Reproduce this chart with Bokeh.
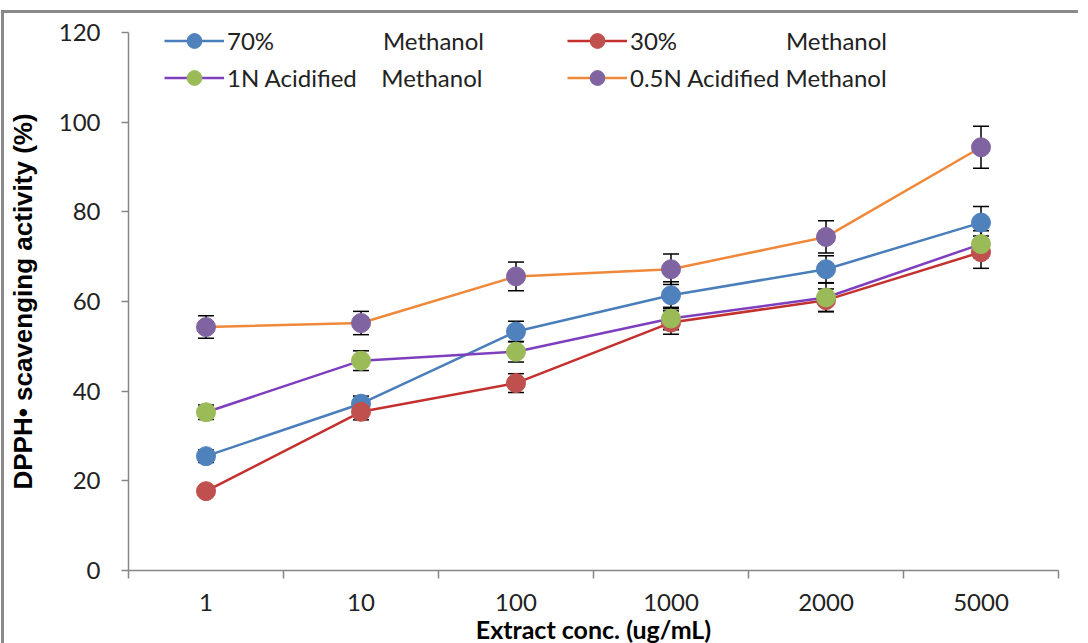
from bokeh.plotting import figure
from bokeh.models import (Range1d, FixedTicker, Whisker, TeeHead, ColumnDataSource,
                          Legend, LegendItem)
from bokeh.embed import file_html
from bokeh.resources import INLINE

EM = "\u2003"
NB = "\u00a0"
categories = ["1", "10", "100", "1000", "2000", "5000"]
series_names = ["70%" + EM * 4 + NB * 6 + "Methanol",
                "30%" + EM * 4 + NB * 6 + "Methanol",
                "1N Acidified" + NB * 4 + "Methanol",
                "0.5N Acidified Methanol"]
m70 = [25.5, 37.2, 53.3, 61.4, 67.2, 77.6]
e70 = [1.4, 1.7, 2.3, 3.0, 3.0, 3.6]
m30 = [17.7, 35.4, 41.8, 55.3, 60.3, 71.0]
e30 = [0.8, 1.8, 2.1, 2.6, 2.5, 3.6]
n1 = [35.3, 46.8, 48.8, 56.2, 60.9, 72.8]
en1 = [1.6, 2.2, 2.3, 2.5, 3.2, 3.0]
n05 = [54.3, 55.2, 65.6, 67.2, 74.4, 94.4]
en05 = [2.5, 2.6, 3.2, 3.4, 3.6, 4.7]
y_ticks = [0, 20, 40, 60, 80, 100, 120]

values = [m70, m30, n1, n05]
errors = [e70, e30, en1, en05]
line_colors = ["#4A7EBB", "#C3302E", "#7E3FBF", "#F0883A"]
marker_colors = ["#4F81BD", "#C0504D", "#9BBB59", "#8064A2"]

AXIS = "#868686"
FONT = "Lato"

xs = [i + 0.5 for i in range(len(categories))]

p = figure(frame_width=930, frame_height=538,
           x_range=Range1d(0, len(categories)), y_range=Range1d(0, 120),
           output_backend="svg", toolbar_location=None,
           min_border_left=117, min_border_right=20, min_border_top=19, min_border_bottom=62)
p.styles = {"border-top": "3px solid #8a8a8a", "border-left": "3px solid #8a8a8a",
            "margin-top": "10px", "margin-left": "1px"}
p.outline_line_color = None
p.xgrid.visible = False
p.ygrid.visible = False

# x axis: labels at category centres, ticks at boundaries
p.xaxis.ticker = FixedTicker(ticks=xs, minor_ticks=list(range(len(categories) + 1)))
p.xaxis.major_label_overrides = {x: c for x, c in zip(xs, categories)}
p.xaxis.major_tick_out = 0
p.xaxis.major_tick_in = 0
p.xaxis.minor_tick_out = 8
p.xaxis.minor_tick_in = 0
p.xaxis.minor_tick_line_color = AXIS
p.xaxis.minor_tick_line_width = 1.5
p.xaxis.axis_line_color = AXIS
p.xaxis.axis_line_width = 1.5
p.xaxis.major_label_text_font = FONT
p.xaxis.major_label_text_font_size = "24px"
p.xaxis.major_label_text_color = "#222222"
p.xaxis.major_label_standoff = 15
p.xaxis.axis_label = "Extract conc. (ug/mL)"
p.xaxis.axis_label_text_font = FONT
p.xaxis.axis_label_text_font_style = "bold"
p.xaxis.axis_label_text_font_size = "25px"
p.xaxis.axis_label_standoff = 0
p.xaxis.axis_label_text_color = "black"

p.yaxis.ticker = FixedTicker(ticks=y_ticks)
p.yaxis.minor_tick_line_color = None
p.yaxis.major_tick_out = 7
p.yaxis.major_tick_in = 0
p.yaxis.major_tick_line_color = AXIS
p.yaxis.major_tick_line_width = 1.5
p.yaxis.axis_line_color = AXIS
p.yaxis.axis_line_width = 1.5
p.yaxis.major_label_text_font = FONT
p.yaxis.major_label_text_font_size = "24px"
p.yaxis.major_label_text_color = "#222222"
p.yaxis.major_label_standoff = 21
p.yaxis.axis_label = "DPPH\u2022 scavenging activity (%)"
p.yaxis.axis_label_text_font = "Liberation Sans"
p.yaxis.axis_label_text_font_style = "bold"
p.yaxis.axis_label_text_font_size = "26px"
p.yaxis.axis_label_standoff = 18
p.yaxis.axis_label_text_color = "black"

# error bars
for vals, errs in zip(values, errors):
    src = ColumnDataSource(dict(x=xs, lo=[v - e for v, e in zip(vals, errs)],
                                hi=[v + e for v, e in zip(vals, errs)]))
    w = Whisker(source=src, base="x", lower="lo", upper="hi",
                line_color="black", line_width=1.5,
                upper_head=TeeHead(size=16, line_color="black", line_width=1.5),
                lower_head=TeeHead(size=16, line_color="black", line_width=1.5))
    p.add_layout(w)

items = []
for name, vals, lc, mc in zip(series_names, values, line_colors, marker_colors):
    lr = p.line(xs, vals, line_color=lc, line_width=2.5)
    sr = p.scatter(xs, vals, size=19, fill_color=mc, line_color=mc)
    items.append(LegendItem(label=name, renderers=[lr, sr]))

legend = Legend(items=items, ncols=2, orientation="horizontal", location=(36, 474),
                glyph_width=60, glyph_height=37, label_height=37, label_width=340,
                label_standoff=3, spacing=0, padding=0, margin=0,
                border_line_color=None, background_fill_alpha=0,
                label_text_font=FONT, label_text_font_size="24px",
                label_text_color="#222222")
p.add_layout(legend)

open("out.html", "w").write(file_html(p, INLINE))
